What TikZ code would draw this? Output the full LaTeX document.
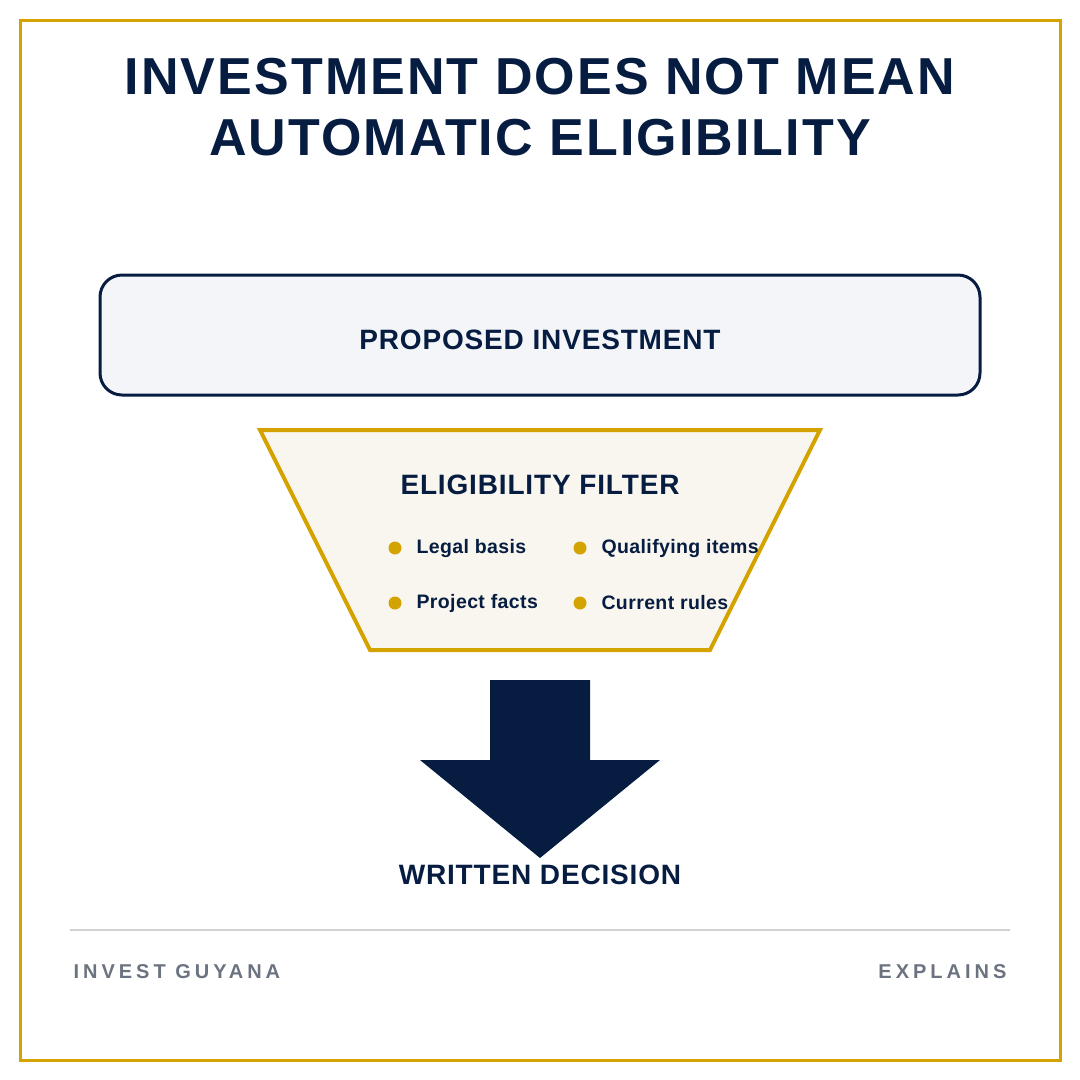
\documentclass[tikz,border=0pt]{standalone}
\usepackage{fontspec}
\setmainfont{Liberation Sans}
\definecolor{navy}{HTML}{061C40}
\definecolor{gold}{HTML}{D4A300}
\definecolor{boxfill}{HTML}{F3F5F9}
\definecolor{trapfill}{HTML}{F8F6EE}
\definecolor{greytxt}{HTML}{6B7280}
\begin{document}
\begin{tikzpicture}[x=1pt,y=-1pt,
  hd/.style={font=\bfseries\fontsize{28}{32}\selectfont\addfontfeature{LetterSpace=3},text=navy},
  item/.style={font=\bfseries\fontsize{19.5}{22}\selectfont\addfontfeature{LetterSpace=2},text=navy,anchor=west},
  dot/.style={circle,fill=gold,inner sep=0pt,minimum size=13pt},
  foot/.style={font=\bfseries\fontsize{20}{24}\selectfont\addfontfeature{LetterSpace=20},text=greytxt}]
\useasboundingbox (0,0) rectangle (1080,1080);
\draw[gold,line width=3pt] (20,20) rectangle (1060,1060);
\node[font=\bfseries\fontsize{52}{60}\selectfont\addfontfeature{LetterSpace=4},text=navy] (t1) at (540,77) {INVESTMENT DOES NOT MEAN};
\node[font=\bfseries\fontsize{52}{60}\selectfont\addfontfeature{LetterSpace=4},text=navy] (t2) at (540,138) {AUTOMATIC ELIGIBILITY};
\draw[navy,line width=3pt,fill=boxfill,rounded corners=22pt] (100,275) rectangle (980,395);
\node[hd] (pi) at (540,340) {PROPOSED INVESTMENT};
\draw[gold,line width=4pt,fill=trapfill] (260,430) -- (820,430) -- (710,650) -- (370,650) -- cycle;
\node[hd] (ef) at (540,485) {ELIGIBILITY FILTER};
\node[dot] (d1) at (395,548) {}; \node[item] (l1) at (413,548) {Legal basis};
\node[dot] (d2) at (580,548) {}; \node[item] (l2) at (598,548) {Qualifying items};
\node[dot] (d3) at (395,603) {}; \node[item] (l3) at (413,603) {Project facts};
\node[dot] (d4) at (580,603) {}; \node[item] (l4) at (598,603) {Current rules};
\fill[navy] (490,680) -- (590,680) -- (590,760) -- (660,760) -- (540,858) -- (420,760) -- (490,760) -- cycle;
\node[hd] (wd) at (540,875) {WRITTEN DECISION};
\draw[gray!35,line width=1.5pt] (70,930) -- (1010,930);
\node[foot,anchor=west] (ig) at (70,972) {INVEST GUYANA};
\node[foot,anchor=east] (ex) at (1010,972) {EXPLAINS};
\end{tikzpicture}
\end{document}
